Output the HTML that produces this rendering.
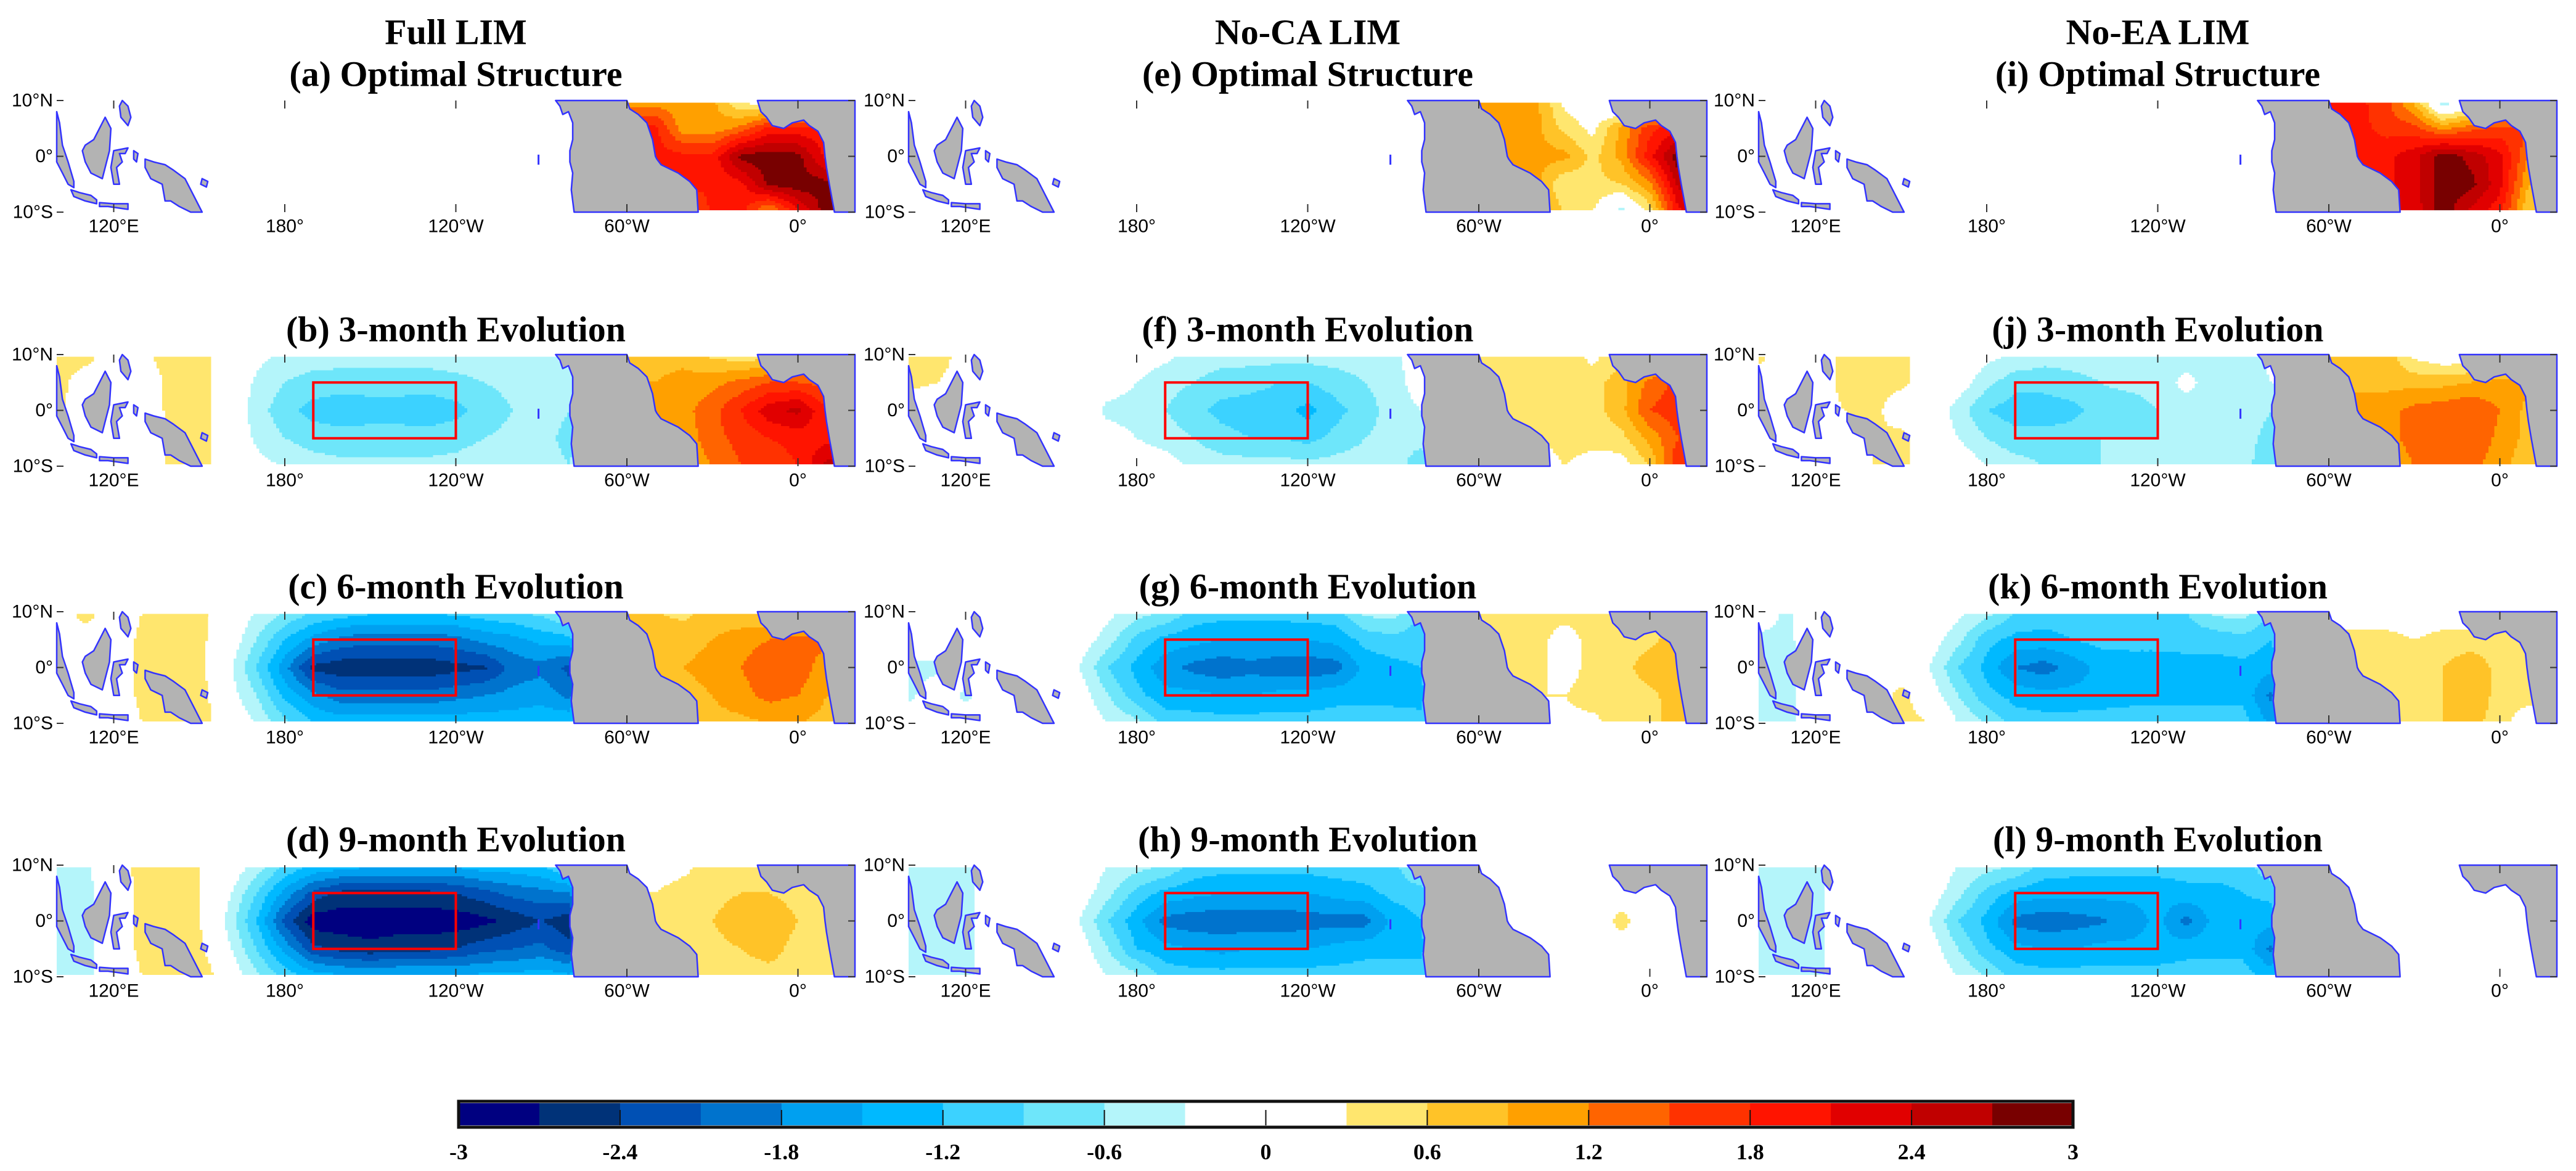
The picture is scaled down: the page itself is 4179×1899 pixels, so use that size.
<!DOCTYPE html>
<html><head><meta charset="utf-8"><style>
html,body{margin:0;padding:0;background:#fff}
svg{display:block}
.ttl{font-family:"Liberation Serif",serif;font-weight:bold;font-size:58px;text-anchor:middle;dominant-baseline:central}
.tk{font-family:"Liberation Sans",sans-serif;font-size:30px;dominant-baseline:central}
.cb{font-family:"Liberation Serif",serif;font-weight:bold;font-size:36px;text-anchor:middle;dominant-baseline:central}
</style></head><body>
<svg id="fig" xmlns="http://www.w3.org/2000/svg" width="4179" height="1899" viewBox="0 0 4179 1899"></svg>
<script>
// grid: lon 100..380 step 10 (29 values); lat rows 10N,5N,0,5S,10S
const lonGrid = [100,110,120,130,140,150,160,170,180,190,200,210,220,230,240,250,260,270,280,290,300,310,320,330,340,350,360,370,380];
const latGrid = [10,5,0,-5,-10];
const levelEdges = [-3,-2.7,-2.4,-2.1,-1.8,-1.5,-1.2,-0.9,-0.6,-0.3,0,0.3,0.6,0.9,1.2,1.5,1.8,2.1,2.4,2.7,3];
const levelColors = ["#000080","#003278","#0050b4","#0073cd","#00a0f0","#00b9ff","#3cd2ff","#6ee6fa","#b4f5fa","#ffffff","#ffffff","#ffe66e","#ffc328","#ffa000","#ff6400","#ff3200","#ff1400","#e10000","#c00000","#780000"];
const cbLabels = ["-3","-2.4","-1.8","-1.2","-0.6","0","0.6","1.2","1.8","2.4","3"];
const lonTicks = [120,180,240,300,360];
const lonTickLabels = ["120°E","180°","120°W","60°W","0°"];
const latTicks = [10,0,-10];
const latTickLabels = ["10°N","0°","10°S"];

// (a) Full LIM optimal
const a_n10=[0,0,0,0,0,0,0,0,0,0,0,0,0,0,0,0,0,0,0,0,1.0,1.0,1.0,1.0,0.2,0,0,0,0];
const a_n5 =[0,0,0,0,0,0,0,0,0,0,0,0,0,0,0,0,0,0,0,0,1.9,1.9,1.0,1.0,1.3,1.9,1.9,1.9,1.9];
const a_eq =[0,0,0,0,0,0,0,0,0,0,0,0,0,0,0,0,0,0,0,0,1.9,1.9,1.9,1.9,2.8,2.9,2.8,2.0,2.0];
const a_s5 =[0,0,0,0,0,0,0,0,0,0,0,0,0,0,0,0,0,0,0,0,1.9,1.9,1.9,1.9,2.0,2.8,2.9,2.8,2.8];
const a_s10=[0,0,0,0,0,0,0,0,0,0,0,0,0,0,0,0,0,0,0,0,1.0,1.0,1.0,1.9,1.9,1.0,2.0,2.9,2.9];
// (b)
const b_n10=[0.5,0.5,0,0.2,0.5,0.5,0,-0.2,-0.35,-0.4,-0.4,-0.4,-0.4,-0.4,-0.4,-0.4,-0.4,-0.4,-0.2,0,0.8,0.8,0.8,0.5,0.4,0.4,0.4,0.4,0.4];
const b_n5 =[0.5,0,0,0,0.4,0.5,0,-0.35,-0.6,-0.75,-0.8,-0.8,-0.8,-0.8,-0.7,-0.6,-0.5,-0.45,-0.4,0,0.9,0.9,1.0,1.1,1.3,1.5,1.5,1.4,1.4];
const b_eq =[0.4,0,0,0,0.4,0.5,0,-0.45,-0.8,-1.0,-1.05,-1.0,-1.0,-1.05,-1.0,-0.8,-0.6,-0.45,-0.6,0,1.0,1.0,1.1,1.4,1.8,2.3,2.5,1.8,1.8];
const b_s5 =[0,0,0,0,0.3,0.5,0,-0.35,-0.6,-0.75,-0.8,-0.8,-0.8,-0.8,-0.7,-0.6,-0.5,-0.5,-0.7,0,1.0,1.0,1.0,1.4,1.6,1.8,1.9,2.0,2.0];
const b_s10=[0,0,0,0,0.4,0.5,0,-0.2,-0.3,-0.45,-0.5,-0.5,-0.5,-0.5,-0.5,-0.45,-0.45,-0.45,-0.6,0,0.9,0.9,0.9,1.2,1.5,1.6,1.8,2.5,2.5];
// (c)
const c_n10=[0,0.5,0,0.3,0.5,0.4,0,-0.3,-0.6,-0.9,-1.0,-1.1,-1.1,-1.1,-1.1,-1.0,-0.9,-0.8,-0.5,0,0.6,0.6,0.5,0.7,0.6,0.6,0.6,0.6,0.6];
const c_n5 =[0,0,0,0.4,0.5,0.4,0,-0.6,-1.2,-1.6,-1.9,-2.0,-2.0,-2.0,-1.9,-1.7,-1.6,-1.4,-1.3,0,0.8,0.8,0.8,0.9,1.1,1.2,1.3,1.3,1.3];
const c_eq =[0,0,0,0.4,0.5,0.4,-0.2,-0.9,-1.7,-2.5,-2.6,-2.6,-2.6,-2.6,-2.5,-2.45,-2.0,-1.9,-2.2,0,0.9,0.9,0.9,1.0,1.2,1.4,1.4,1.0,1.0];
const c_s5 =[0,0,0,0.4,0.5,0.5,-0.1,-0.6,-1.3,-1.7,-2.0,-2.0,-2.0,-2.0,-1.9,-1.8,-1.7,-1.6,-1.9,0,0.8,0.8,0.8,0.9,1.1,1.3,1.2,0.9,0.9];
const c_s10=[0,0,0,0.3,0.5,0.5,0,-0.3,-0.8,-1.2,-1.3,-1.3,-1.3,-1.3,-1.3,-1.3,-1.3,-1.3,-1.2,0,0.7,0.7,0.7,0.8,0.8,0.9,0.9,0.8,0.8];
// (d)
const d_n10=[-0.4,-0.4,0.2,0.4,0.5,0.3,0,-0.4,-0.9,-1.2,-1.3,-1.4,-1.4,-1.4,-1.4,-1.3,-1.3,-1.2,-0.8,0,0.1,0.1,0.2,0.45,0.45,0.4,0.4,0.4,0.4];
const d_n5 =[-0.45,-0.45,0,0.4,0.5,0.3,-0.2,-0.9,-1.6,-2.2,-2.5,-2.5,-2.5,-2.5,-2.4,-2.2,-2.0,-1.9,-1.8,0,0.3,0.3,0.45,0.5,0.6,0.6,0.5,0.45,0.45];
const d_eq =[-0.45,-0.45,0,0.4,0.5,0.3,-0.4,-1.2,-2.2,-2.9,-2.9,-2.9,-2.9,-2.9,-2.9,-2.8,-2.6,-2.4,-2.6,0,0.4,0.4,0.5,0.6,0.8,0.8,0.6,0.5,0.5];
const d_s5 =[-0.45,-0.45,0,0.4,0.5,0.4,-0.2,-0.9,-1.6,-2.3,-2.5,-2.6,-2.5,-2.5,-2.4,-2.2,-2.1,-2.0,-2.3,0,0.4,0.4,0.5,0.5,0.6,0.7,0.5,0.5,0.5];
const d_s10=[-0.45,-0.45,0,0.3,0.5,0.6,0,-0.5,-1.0,-1.3,-1.4,-1.4,-1.4,-1.4,-1.4,-1.4,-1.4,-1.3,-1.4,0,0.4,0.4,0.4,0.5,0.5,0.5,0.5,0.5,0.5];
// (e) No-CA optimal
const e_n10=[0,0,0,0,0,0,0,0,0,0,0,0,0,0,0,0,0,0,0,0,1.0,1.0,1.0,0.2,0,-0.6,0,0,0];
const e_n5 =[0,0,0,0,0,0,0,0,0,0,0,0,0,0,0,0,0,0,0,0,1.0,1.0,1.0,0.5,0.2,1.0,1.7,2.0,2.0];
const e_eq =[0,0,0,0,0,0,0,0,0,0,0,0,0,0,0,0,0,0,0,0,1.0,1.0,1.0,1.0,0.5,1.0,2.0,2.9,2.9];
const e_s5 =[0,0,0,0,0,0,0,0,0,0,0,0,0,0,0,0,0,0,0,0,1.0,1.0,1.0,0.3,0.5,0.6,1.1,2.5,2.5];
const e_s10=[0,0,0,0,0,0,0,0,0,0,0,0,0,0,0,0,0,0,0,0,1.0,1.0,1.0,0.6,0.3,-0.5,0.4,2.0,2.9];
// (f)
const f_n10=[0.5,0.6,0,0,0,0,0,0,-0.1,-0.2,-0.4,-0.45,-0.45,-0.45,-0.45,-0.45,-0.45,-0.4,0,0,0.45,0.45,0.45,0.45,0.2,0.5,0.5,0.5,0.5];
const f_n5 =[0.4,0.3,0,0,0,0,0,-0.1,-0.3,-0.5,-0.6,-0.75,-0.8,-0.9,-0.9,-0.75,-0.6,-0.45,-0.1,0,0.45,0.45,0.45,0.45,0.45,0.8,1.3,1.6,1.6];
const f_eq =[0,0,0,0,0,0,0,-0.4,-0.45,-0.6,-0.8,-1.0,-1.05,-1.1,-1.3,-1.0,-0.75,-0.45,-0.3,0,0.45,0.45,0.45,0.45,0.45,0.8,1.5,1.7,1.7];
const f_s5 =[0,0,0,0,0,0,0,-0.1,-0.3,-0.45,-0.6,-0.8,-0.9,-0.9,-1.0,-0.8,-0.6,-0.5,-0.5,0,0.3,0.3,0.3,0.45,0.45,0.5,1.0,1.5,1.5];
const f_s10=[0,0,0,0,0,0,0,0,0,-0.1,-0.4,-0.45,-0.45,-0.45,-0.5,-0.45,-0.45,-0.45,-0.8,0,0,0,0,0.3,0.1,0.1,0.6,1.8,1.8];
// (g)
const g_n10=[0,0,0,0,0,0,0,-0.2,-0.45,-0.6,-1.0,-1.05,-1.05,-1.05,-1.0,-1.0,-0.5,-0.45,-1.0,0,0.45,0.45,0.45,0.45,0.45,0.45,0,0,0];
const g_n5 =[0,0,0,0,0,0,-0.1,-0.45,-1.0,-1.3,-1.4,-1.5,-1.5,-1.5,-1.5,-1.4,-1.1,-1.0,-1.0,0,0.45,0.45,0.45,0.1,0.45,0.45,0.5,0.8,0.8];
const g_eq =[-0.4,-0.4,0,0,0,0,-0.3,-0.9,-1.3,-1.7,-1.9,-2.0,-1.9,-2.0,-2.0,-1.95,-1.4,-1.3,-1.2,0,0.3,0.3,0.45,0.1,0.45,0.45,0.8,0.9,0.9];
const g_s5 =[-0.4,0,-0.4,0,0,0,-0.1,-0.6,-1.1,-1.4,-1.4,-1.5,-1.5,-1.4,-1.4,-1.3,-1.3,-1.3,-1.3,0,0.3,0.3,0.3,0.3,0.45,0.45,0.5,0.8,0.8];
const g_s10=[0,0,0,0,0,0,0,-0.3,-0.5,-1.0,-1.05,-1.05,-1.05,-1.05,-1.05,-1.05,-1.05,-1.05,-1.1,0,0.2,0.2,0.2,0.2,0.2,0.45,0.45,0.8,0.8];
// (h)
const h_n10=[-0.45,-0.45,-0.45,0,0,0,0,-0.3,-0.45,-0.6,-1.0,-1.05,-1.05,-1.05,-1.05,-1.0,-1.0,-1.0,-0.45,0,0,0,0,0,0,0,0,0,0];
const h_n5 =[-0.45,-0.45,-0.45,0,0,0,-0.1,-0.5,-1.0,-1.3,-1.4,-1.5,-1.5,-1.5,-1.5,-1.4,-1.3,-1.1,-1.05,0,0,0,0,0,0,0,0,0,0];
const h_eq =[-0.45,-0.45,-0.45,0,0,0,-0.3,-0.9,-1.4,-1.9,-2.0,-2.0,-2.0,-2.0,-1.95,-1.9,-1.95,-1.4,-1.2,0,0,0,0,0,0,0.45,0,0,0];
const h_s5 =[-0.45,-0.45,-0.45,0,0,0,-0.1,-0.6,-1.2,-1.4,-1.5,-1.6,-1.5,-1.5,-1.5,-1.4,-1.3,-1.3,-1.3,0,0,0,0,0,0,0,0,0,0];
const h_s10=[-0.45,-0.45,-0.45,0,0,0,0,-0.3,-0.5,-1.0,-1.05,-1.05,-1.05,-1.05,-1.05,-1.05,-1.05,-1.05,-1.05,0,0,0,0,0,0,0,0,0,0];
// (i) No-EA optimal
const i_n10=[0,0,0,0,0,0,0,0,0,0,0,0,0,0,0,0,0,0,0,0,1.9,1.9,1.6,0.8,-0.6,-0.2,0,0,0];
const i_n5 =[0,0,0,0,0,0,0,0,0,0,0,0,0,0,0,0,0,0,0,0,1.9,1.9,1.7,1.6,1.1,1.4,1.6,1.6,1.6];
const i_eq =[0,0,0,0,0,0,0,0,0,0,0,0,0,0,0,0,0,0,0,0,1.9,1.9,2.0,2.3,2.9,2.6,2.2,1.2,1.2];
const i_s5 =[0,0,0,0,0,0,0,0,0,0,0,0,0,0,0,0,0,0,0,0,1.9,1.9,2.0,2.3,2.9,2.8,2.2,0.9,0.9];
const i_s10=[0,0,0,0,0,0,0,0,0,0,0,0,0,0,0,0,0,0,0,0,1.9,1.9,2.0,2.2,2.9,2.3,1.9,0.6,0.6];
// (j)
const j_n10=[0.45,0,0,0.45,0.45,0.45,0,0,-0.2,-0.3,-0.45,-0.45,-0.45,-0.45,-0.45,-0.45,-0.45,-0.45,-0.2,0,0.8,0.8,0.8,0.2,0,0,0.2,0.2,0.2];
const j_n5 =[0,0,0,0.45,0.45,0.4,0,-0.1,-0.5,-0.8,-0.8,-0.7,-0.6,-0.5,-0.45,-0.2,-0.45,-0.45,-0.3,0,0.8,0.8,0.8,0.8,0.8,0.9,1.0,1.0,1.0];
const j_eq =[0,0,0,0.3,0.45,0,0,-0.45,-0.9,-1.05,-1.05,-1.0,-0.75,-0.8,-0.6,-0.45,-0.45,-0.45,-0.6,0,1.1,1.1,1.1,1.3,1.4,1.5,1.2,0.8,0.8];
const j_s5 =[0,0,0,0,0.3,0.45,0,-0.3,-0.6,-0.8,-0.8,-0.75,-0.6,-0.6,-0.6,-0.45,-0.45,-0.5,-0.7,0,1.1,1.1,1.1,1.3,1.4,1.5,1.1,0.8,0.8];
const j_s10=[0,0,0,0,0.3,0.45,0,0,-0.3,-0.45,-0.6,-0.6,-0.6,-0.45,-0.45,-0.45,-0.45,-0.45,-0.9,0,1.0,1.0,1.0,1.2,1.3,1.3,1.0,0.7,0.7];
// (k)
const k_n10=[0,-0.4,0,0,0,0,0,-0.2,-0.45,-0.9,-1.05,-1.05,-1.05,-1.05,-1.05,-0.9,-0.5,-0.45,-0.9,0,0,0,0,0,0,0,0,0,0];
const k_n5 =[-0.4,-0.4,0,0.3,0,0,-0.1,-0.5,-1.1,-1.3,-1.3,-1.2,-1.1,-1.1,-1.1,-1.1,-1.1,-1.0,-1.2,0,0.45,0.45,0.45,0.3,0.45,0.45,0.45,0.45,0.45];
const k_eq =[-0.45,-0.45,0,0,0,0,-0.3,-0.9,-1.3,-1.8,-1.95,-1.7,-1.4,-1.35,-1.35,-1.3,-1.3,-1.3,-1.4,0,0.45,0.45,0.45,0.5,0.6,0.8,0.5,0.45,0.45];
const k_s5 =[-0.45,-0.45,0,0,0,0.45,-0.1,-0.6,-1.1,-1.3,-1.4,-1.4,-1.35,-1.3,-1.3,-1.3,-1.3,-1.3,-1.9,0,0.45,0.45,0.45,0.5,0.6,0.8,0.5,0.45,0.45];
const k_s10=[-0.45,-0.45,0,0,0,0.45,0.3,-0.3,-0.6,-1.05,-1.05,-1.05,-1.05,-1.05,-1.05,-1.05,-1.05,-1.05,-1.6,0,0.45,0.45,0.45,0.45,0.6,0.7,0.45,0,0];
// (l)
const l_n10=[-0.45,-0.45,-0.45,0,0,0,0,-0.3,-0.45,-0.6,-1.0,-1.05,-1.05,-1.05,-1.05,-1.05,-1.05,-1.05,-0.6,0,0,0,0,0,0,0,0,0,0];
const l_n5 =[-0.45,-0.45,-0.45,0,0,0,-0.1,-0.5,-1.0,-1.3,-1.4,-1.4,-1.4,-1.4,-1.4,-1.3,-1.3,-1.2,-1.1,0,0,0,0,0,0,0,0,0,0];
const l_eq =[-0.45,-0.45,-0.45,0,0,0,-0.3,-0.9,-1.3,-1.9,-2.0,-1.95,-1.85,-1.7,-1.4,-1.9,-1.4,-1.35,-1.4,0,0,0,0,0,0,0,0,0,0];
const l_s5 =[-0.45,-0.45,-0.45,0,0,0.3,-0.1,-0.6,-1.1,-1.4,-1.5,-1.5,-1.4,-1.4,-1.4,-1.3,-1.3,-1.3,-1.9,0,0,0,0,0,0,0,0,0,0];
const l_s10=[-0.45,-0.45,-0.45,0,0,0.3,0,-0.3,-0.6,-1.0,-1.05,-1.05,-1.05,-1.05,-1.05,-1.05,-1.05,-1.05,-1.3,0,0,0,0,0,0,0,0,0,0];

const panelTitles = ["(a) Optimal Structure","(b) 3-month Evolution","(c) 6-month Evolution","(d) 9-month Evolution",
 "(e) Optimal Structure","(f) 3-month Evolution","(g) 6-month Evolution","(h) 9-month Evolution",
 "(i) Optimal Structure","(j) 3-month Evolution","(k) 6-month Evolution","(l) 9-month Evolution"];
const columnTitles = ["Full LIM","No-CA LIM","No-EA LIM"];
const panelFields = [
 [a_n10,a_n5,a_eq,a_s5,a_s10],[b_n10,b_n5,b_eq,b_s5,b_s10],[c_n10,c_n5,c_eq,c_s5,c_s10],[d_n10,d_n5,d_eq,d_s5,d_s10],
 [e_n10,e_n5,e_eq,e_s5,e_s10],[f_n10,f_n5,f_eq,f_s5,f_s10],[g_n10,g_n5,g_eq,g_s5,g_s10],[h_n10,h_n5,h_eq,h_s5,h_s10],
 [i_n10,i_n5,i_eq,i_s5,i_s10],[j_n10,j_n5,j_eq,j_s5,j_s10],[k_n10,k_n5,k_eq,k_s5,k_s10],[l_n10,l_n5,l_eq,l_s5,l_s10]];

// land outlines (lon east 0-380, lat)
const southAmerica=[[275,10],[276.5,9],[277.5,7.5],[279.5,8],[281,6],[281,3],[280,1],[280,-1],[281,-3],[280.5,-6],[281.5,-10],[325,-10],[324.5,-6],[322,-4.5],[318,-3],[314,-2],[312,-1.5],[310.5,-0.5],[310,0],[309,3],[307,6],[304,7.5],[301,8.5],[300,10]];
const africa=[[345.8,10],[347,8],[349,7],[351,5.5],[355,5],[358,6],[362,6.5],[364,5.5],[367,4.5],[369,2.5],[369.5,0],[370,-2],[371,-5],[372.8,-10],[380,-10],[380,10]];
const islands=[
 [[100,8],[101,6],[102,2],[104,-1],[106,-4.5],[106,-5.6],[104,-5],[102,-3],[100,-1]],
 [[117,7],[119,5],[118.5,1],[117,-2],[116,-4],[112,-3],[110,-1],[109,1],[110,2],[113,3],[116,6]],
 [[120,1],[125,1.5],[124,0.5],[122,0.5],[123,-1],[121,-2],[122,-5],[120,-5],[119,-2]],
 [[123,10],[125,9],[126,7],[125,5.5],[122.5,7],[122,9]],
 [[131,-0.5],[134,-1],[138,-1.5],[141,-2.5],[145,-4],[147,-6],[151,-10],[147,-10],[143,-9],[140,-8],[138,-8],[137,-5],[133,-4],[131,-2]],
 [[105,-6],[108,-6.5],[112,-7],[114,-7.8],[114,-8.5],[110,-8],[106,-7.2]],
 [[115,-8.3],[120,-8.5],[125,-8.5],[125,-9.5],[118,-9],[115,-9]],
 [[127,1],[128.5,0.5],[128,-1],[127,-0.5]],
 [[151,-4],[153,-4.5],[152.5,-5.5],[150.5,-5]]
];

const NS="http://www.w3.org/2000/svg";
const svg=document.getElementById('fig');
const colX=[92,1474,2853], rowY=[163,575,992,1403];
const W=1295, H=181, LON0=100, LON1=380;
function mk(tag,attrs,parent){const e=document.createElementNS(NS,tag);for(const k in attrs)e.setAttribute(k,attrs[k]);(parent||svg).appendChild(e);return e;}
function colorFor(v){let i=Math.floor((v+3)/0.3);if(i<0)i=0;if(i>19)i=19;return levelColors[i];}
function sample(f,lon,lat){
 let fi=(lon-lonGrid[0])/10, fj=(latGrid[0]-lat)/5;
 fi=Math.max(0,Math.min(lonGrid.length-1.0001,fi)); fj=Math.max(0,Math.min(latGrid.length-1.0001,fj));
 const i=Math.floor(fi),j=Math.floor(fj),u=fi-i,w=fj-j;
 return f[j][i]*(1-u)*(1-w)+f[j][i+1]*u*(1-w)+f[j+1][i]*(1-u)*w+f[j+1][i+1]*u*w;
}

for(let c=0;c<3;c++){
 const x0=colX[c];
 const ct=mk('text',{x:x0+W/2,y:52,class:'ttl'});
 
 
 ct.textContent=columnTitles[c];
 for(let r=0;r<4;r++){
  const p=c*4+r, y0=rowY[r], f=panelFields[p];
  const xs=lon=>x0+(lon-LON0)/(LON1-LON0)*W;
  const ys=lat=>y0+(10-lat)/20*H;
  const g=mk('g',{});
  
  
  const tt=mk('text',{x:x0+W/2,y:[120,534,951,1361][r],class:'ttl'});
  
  
  tt.textContent=panelTitles[p];
  const fg=mk('g',{'shape-rendering':'crispEdges'},g);
  
  
  const dLat=0.4,dLon=1;
  for(let la=9.6;la>-9.6+1e-6;la-=dLat){
   let runStart=null,runCol=null;
   for(let lo=LON0;lo<=LON1;lo+=dLon){
    const col=lo<LON1?colorFor(sample(f,lo+dLon/2,la-dLat/2)):null;
    if(col!==runCol){
     if(runCol&&runCol!=="#ffffff"){
      const rc=mk('rect',{x:xs(runStart).toFixed(1),y:ys(la).toFixed(1),width:(xs(lo)-xs(runStart)+0.6).toFixed(1),height:(ys(la-dLat)-ys(la)+0.6).toFixed(1),fill:runCol},fg);
      
      
     }
     runStart=lo;runCol=col;
    }
   }
  }
  const poly=(pts,name)=>{const e=mk('polygon',{points:pts.map(q=>xs(q[0]).toFixed(1)+','+ys(q[1]).toFixed(1)).join(' '),fill:'#b3b3b3',stroke:'#3333ff','stroke-width':2.5,'stroke-linejoin':'round'},g);
   
   };
  poly(southAmerica,'south-america');
  poly(africa,'africa');
  islands.forEach(isl=>poly(isl,'island'));
  const gal=mk('line',{x1:xs(269),y1:ys(0.3),x2:xs(269),y2:ys(-1.5),stroke:'#3333ff','stroke-width':3},g);
  
  
  if(r>0){
   const bx=mk('rect',{x:xs(190),y:ys(5),width:xs(240)-xs(190),height:ys(-5)-ys(5),fill:'none',stroke:'#ff0000','stroke-width':4},g);
   
   
  }
  lonTicks.forEach((lo,k)=>{
   const t1=mk('line',{x1:xs(lo),y1:y0,x2:xs(lo),y2:y0+13,stroke:'#333','stroke-width':2},g);
   
   
   const t2=mk('line',{x1:xs(lo),y1:y0+H,x2:xs(lo),y2:y0+H-13,stroke:'#333','stroke-width':2},g);
   
   
   const tl=mk('text',{x:xs(lo),y:y0+H+23,class:'tk','text-anchor':'middle'},g);
   
   
   tl.textContent=lonTickLabels[k];
  });
  latTicks.forEach((la,k)=>{
   const t1=mk('line',{x1:x0,y1:ys(la),x2:x0+11,y2:ys(la),stroke:'#333','stroke-width':2},g);
   
   
   const t2=mk('line',{x1:x0+W,y1:ys(la),x2:x0+W-11,y2:ys(la),stroke:'#333','stroke-width':2},g);
   
   
   const tl=mk('text',{x:x0-6,y:ys(la),class:'tk','text-anchor':'end'},g);
   
   
   tl.textContent=latTickLabels[k];
  });
 }
}
const cbX0=744,cbX1=3363,cbY0=1789,cbY1=1825;
const cb=mk('g',{});


const cbx=v=>cbX0+(v+3)/6*(cbX1-cbX0);
for(let k=0;k<levelColors.length;k++){
 const rc=mk('rect',{x:cbx(levelEdges[k]),y:cbY0,width:cbx(levelEdges[k+1])-cbx(levelEdges[k])+0.5,height:cbY1-cbY0,fill:levelColors[k]},cb);
 
 
}
const frame=mk('rect',{x:cbX0,y:cbY0-3,width:cbX1-cbX0,height:cbY1-cbY0+6,fill:'none',stroke:'#111','stroke-width':5},cb);


cbLabels.forEach(l=>{
 const v=parseFloat(l);
 const tk=mk('line',{x1:cbx(v),y1:cbY1,x2:cbx(v),y2:cbY1-25,stroke:'#111','stroke-width':2},cb);
 
 
 const t=mk('text',{x:cbx(v),y:1868,class:'cb'},cb);
 
 
 t.textContent=l;
});
</script>
</body></html>
